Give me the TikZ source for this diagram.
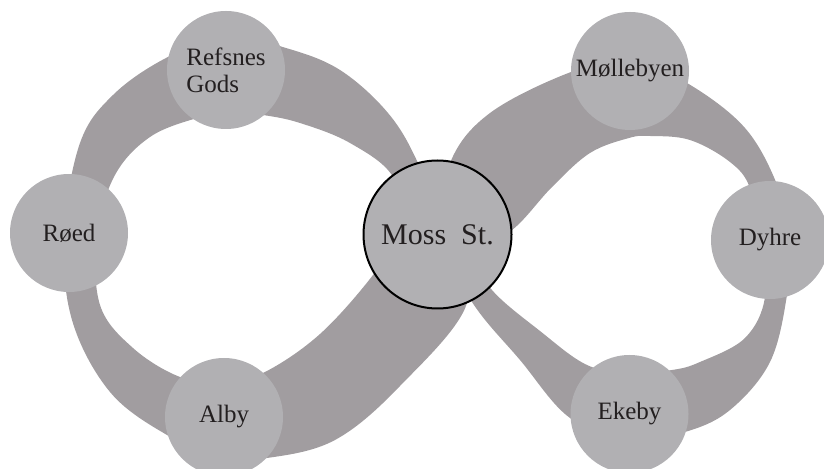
\documentclass[tikz,border=0pt]{standalone}
\usepackage{fontspec}
\setmainfont{Liberation Serif}

\definecolor{bandgray}{RGB}{161,157,160}
\definecolor{stopgray}{RGB}{177,176,179}
\definecolor{labelgray}{RGB}{35,31,32}

\tikzset{
    band/.style={fill=bandgray, even odd rule},
    stop/.style={circle, fill=stopgray, minimum size=59pt, inner sep=0pt,
        text=labelgray, font=\fontsize{12.5}{13.5}\selectfont},
    hub/.style={stop, draw=black, line width=1pt, minimum size=74pt,
        font=\fontsize{15}{16}\selectfont}
}

\begin{document}
\begin{tikzpicture}[x=0.5pt, y=-0.5pt]

\def\tens{0.6}

\useasboundingbox (0,0) rectangle (824,469);
\clip (0,0) rectangle (824,469);

% left loop of the eight
\fill[band]
    plot[smooth cycle, tension=\tens] coordinates {
        (445,235) (418,163) (388,113) (340,70) (286,48) (226,36) (166,58)
        (113,95) (80,143) (64,234) (72,320) (110,392) (167,435) (220,457)
        (267,458) (335,440) (400,386) (467,303)}
    plot[smooth cycle, tension=\tens] coordinates {
        (400,230) (393,177) (350,143) (300,123) (263,115) (230,112)
        (197,118) (150,137) (115,175) (97,235) (100,305) (133,348)
        (180,377) (224,383) (265,372) (320,334) (373,275)};

% right loop of the eight
\fill[band]
    plot[smooth cycle, tension=\tens] coordinates {
        (440,235) (450,163) (490,113) (571,72) (630,60) (687,83) (745,128)
        (778,187) (790,240) (787,295) (770,362) (730,410) (685,432)
        (630,440) (570,418) (520,360) (472,302)}
    plot[smooth cycle, tension=\tens] coordinates {
        (470,250) (512,230) (552,187) (590,153) (629,138) (650,136)
        (690,140) (730,162) (750,188) (760,240) (765,297) (745,338)
        (700,362) (672,370) (630,373) (587,365) (540,331) (492,290)};

% stations
\node[stop, align=left] (refsnes) at (226,70) {Refsnes\\Gods};
\node[stop] (roed) at (69,233) {Røed};
\node[stop] (alby) at (224,417) {Alby};
\node[stop, yshift=4pt] (mollebyen) at (630,79) {Møllebyen};
\node[stop] (dyhre) at (770,240) {Dyhre};
\node[stop] (ekeby) at (629.5,414) {Ekeby};
\node[hub] (moss) at (437.5,234.5) {Moss~ St.};

\end{tikzpicture}
\end{document}
